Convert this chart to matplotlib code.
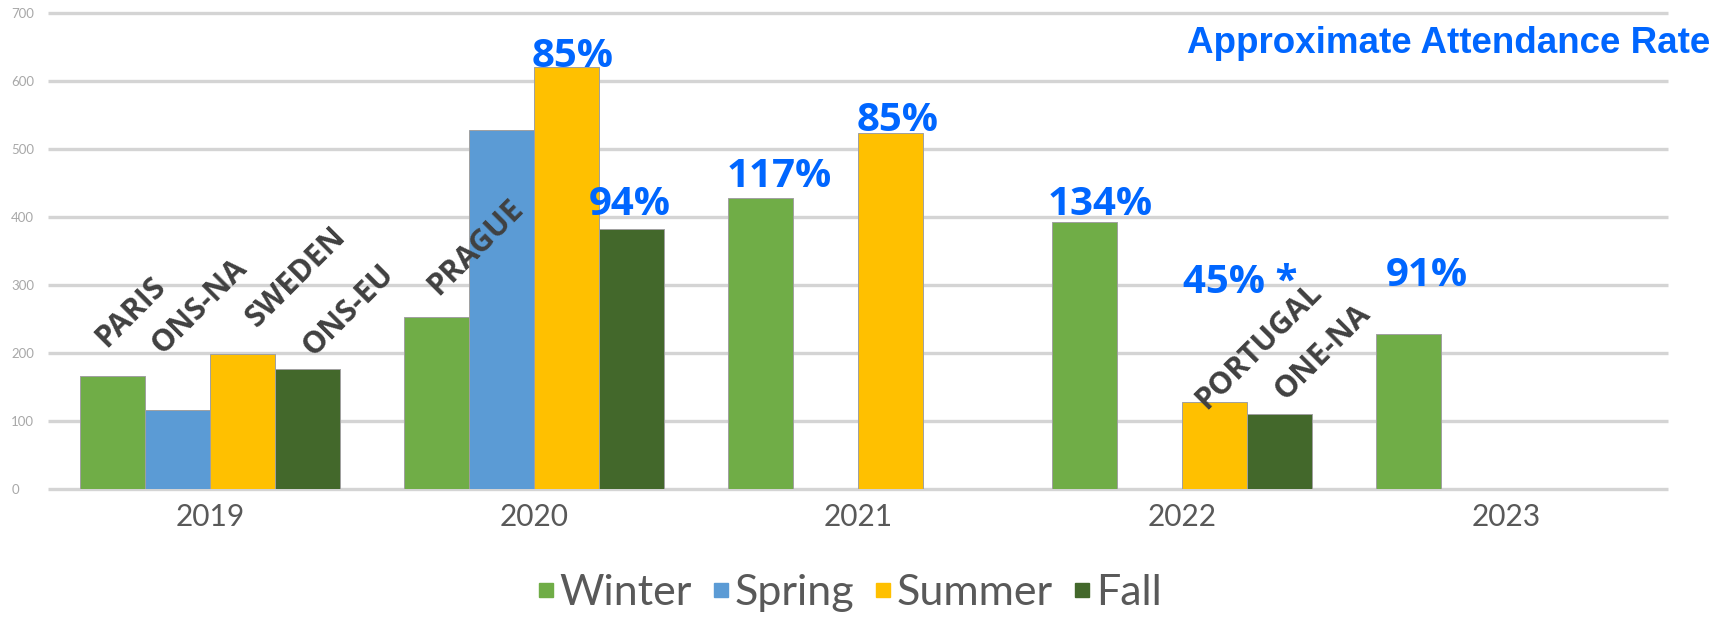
import numpy as np
import matplotlib
matplotlib.use('Agg')
import matplotlib.pyplot as plt
from matplotlib.lines import Line2D

# data
years = ['2019', '2020', '2021', '2022', '2023']
seasons = ['Winter', 'Spring', 'Summer', 'Fall']
winter = [166, 253, 428, 392, 228]
spring = [116, 528, np.nan, np.nan, np.nan]
summer = [199, 621, 523, 128, np.nan]
fall = [176, 383, np.nan, 111, np.nan]
season_colors = ['#70ad47', '#5b9bd5', '#ffc000', '#43682b']

# event names (rotated, dark gray) and attendance rates (blue)
event_names = ['PARIS', 'ONS-NA', 'SWEDEN', 'ONS-EU', 'PRAGUE', 'PORTUGAL', 'ONE-NA']
event_xy = [(-0.244, 260), (-0.034, 269), (0.265, 312), (0.426, 262),
            (0.821, 356), (3.238, 210), (3.435, 201)]
rates = ['85%', '94%', '117%', '85%', '134%', '45% *', '91%']
rate_xy = [(1.120, 621), (1.296, 403), (1.756, 444), (2.123, 526),
           (2.747, 403), (3.179, 288), (3.756, 299)]
yticks = [0, 100, 200, 300, 400, 500, 600, 700]

gray = '#595959'
blue = '#0066ff'

fig = plt.figure(figsize=(17.3, 6.18), dpi=100)
ax = fig.add_axes([48 / 1730, 1 - 489 / 618, 1620 / 1730, 476 / 618])

x = np.arange(len(years))
width = 0.2
series = [winter, spring, summer, fall]
for j, (vals, col) in enumerate(zip(series, season_colors)):
    ax.bar(x + (j - 1.5) * width, vals, width, color=col,
           edgecolor='#a0a0a0', linewidth=0.7, zorder=2)

# gridlines (drawn unclipped so the top and bottom ones keep full width)
ax.hlines(yticks, -0.5, 4.5, color='#d4d4d4', linewidth=2.4, zorder=0, clip_on=False)

ax.set_xlim(-0.5, 4.5)
ax.set_ylim(0, 700)
ax.set_xticks(x)
ax.set_xticklabels(years, fontsize=21.5, color=gray, family='Lato')
ax.set_yticks(yticks)
ax.set_yticklabels([str(v) for v in yticks], fontsize=9.5, color='#a8a8a8', family='Lato')
ax.tick_params(axis='x', length=0, pad=10)
ax.tick_params(axis='y', length=0, pad=26.5)
plt.setp(ax.get_yticklabels(), ha='left')
for s in ax.spines.values():
    s.set_visible(False)

for name, (ex, ey) in zip(event_names, event_xy):
    ax.text(ex, ey, name, rotation=45, ha='center', va='center',
            fontsize=22, fontweight='bold', color='#404040', family='Open Sans', zorder=3)

for r, (rx, ry) in zip(rates, rate_xy):
    ax.text(rx, ry, r, ha='center', va='baseline', fontsize=29,
            fontweight='bold', color=blue, family='Open Sans', zorder=3)

fig.text(1710 / 1730, 1 - 53 / 618, 'Approximate Attendance Rate', ha='right', va='baseline',
         fontsize=26.5, fontweight='bold', color=blue, family='Liberation Sans')

handles = [Line2D([], [], marker='s', linestyle='none', markersize=10,
                  markerfacecolor=c, markeredgecolor=c) for c in season_colors]
fig.legend(handles, seasons, loc='lower center', bbox_to_anchor=(850 / 1730, -16 / 618),
           ncol=4, frameon=False, borderpad=0, handlelength=0.35, handletextpad=0.14,
           columnspacing=0.5, prop={'family': 'Lato', 'size': 31}, labelcolor=gray)

plt.savefig('out.png', dpi=100)
